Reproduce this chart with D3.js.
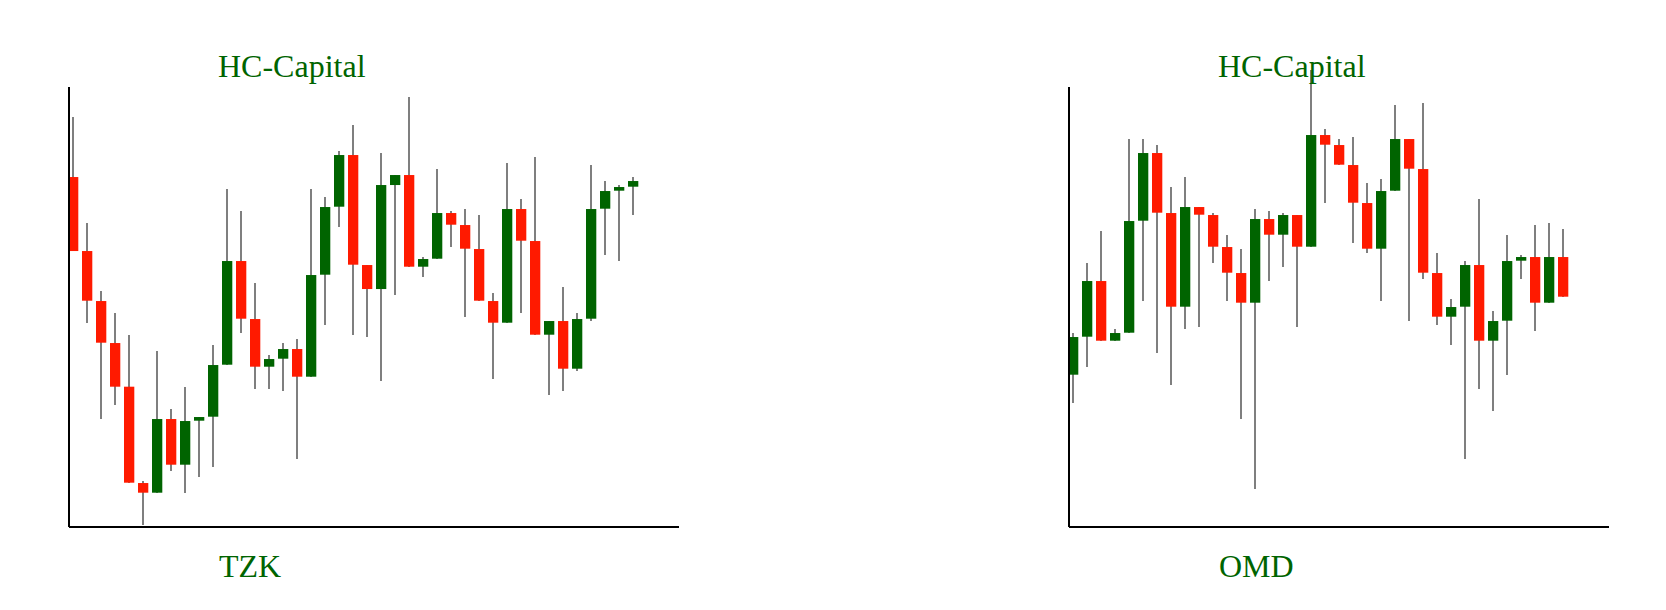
<!DOCTYPE html>
<html>
<head>
<meta charset="utf-8">
<script src="https://cdn.jsdelivr.net/npm/d3@7"></script>
<style>
  body { margin: 0; background: #fff; }
  .label { font-family: "Liberation Serif", "Times New Roman", serif; font-size: 32px; fill: #006400; }
  .axis path { stroke: #000; stroke-width: 2; shape-rendering: crispEdges; }
  .wick { shape-rendering: crispEdges; }
</style>
</head>
<body>
<div id="chart"></div>
<script>
// TZK candles
var tzkOpen  = [104.9, 82.7, 67.7, 55.1, 42.0, 13.1, 10.2, 32.3, 18.6, 31.8, 33.0, 48.6, 79.7, 62.3, 48.0, 50.4, 53.3, 45.0, 75.6, 96.0, 111.5, 78.5, 71.3, 102.5, 105.5, 78.0, 80.4, 94.1, 90.5, 83.3, 67.7, 61.2, 95.3, 85.7, 57.6, 61.7, 47.4, 62.4, 95.4, 100.8, 102.0];
var tzkHigh  = [123.0, 91.1, 70.7, 64.1, 57.5, 13.7, 52.7, 35.3, 42.0, 32.9, 54.5, 101.3, 94.7, 73.1, 51.5, 55.1, 56.3, 101.3, 98.9, 112.7, 120.5, 78.5, 112.1, 105.5, 128.9, 80.9, 107.3, 94.7, 95.3, 93.5, 70.1, 109.1, 98.3, 110.9, 61.7, 71.9, 64.1, 108.5, 103.7, 102.5, 104.9];
var tzkLow   = [82.7, 61.2, 32.4, 36.6, 13.2, 0.6, 10.2, 16.8, 10.2, 15.0, 18.0, 48.6, 58.2, 41.4, 41.4, 40.8, 20.4, 45.0, 60.6, 90.0, 57.6, 57.0, 43.8, 69.6, 78.0, 75.0, 80.4, 84.0, 63.0, 67.8, 44.4, 61.2, 64.2, 57.6, 39.6, 40.8, 46.8, 61.8, 81.6, 79.8, 93.6];
var tzkClose = [82.7, 67.8, 55.2, 42.0, 13.2, 10.2, 32.3, 18.6, 31.7, 32.9, 48.5, 79.7, 62.4, 48.0, 50.3, 53.3, 45.0, 75.5, 95.9, 111.5, 78.6, 71.3, 102.5, 105.5, 78.0, 80.3, 94.1, 90.6, 83.4, 67.8, 61.2, 95.3, 85.8, 57.6, 61.7, 47.4, 62.3, 95.3, 100.7, 101.9, 103.7];

// OMD candles
var omdOpen  = [45.6, 57.0, 73.7, 55.8, 58.2, 91.8, 112.1, 94.1, 66.0, 95.9, 93.5, 83.9, 76.1, 67.2, 92.3, 87.6, 93.5, 84.0, 117.5, 114.5, 108.5, 97.1, 83.4, 100.8, 116.3, 107.3, 76.1, 63.0, 66.0, 78.5, 55.8, 61.8, 79.8, 80.9, 67.2, 80.9];
var omdHigh  = [58.1, 79.1, 88.7, 59.3, 116.3, 116.3, 114.5, 101.9, 104.9, 95.9, 94.1, 87.5, 83.3, 95.3, 94.7, 94.1, 93.5, 137.0, 119.3, 116.3, 116.9, 103.1, 104.3, 126.5, 116.3, 127.1, 82.1, 68.3, 79.7, 98.3, 64.7, 87.5, 81.5, 90.5, 91.1, 89.3];
var omdLow   = [37.2, 48.0, 55.8, 55.8, 58.2, 67.8, 52.2, 42.6, 59.4, 60.0, 79.2, 67.8, 32.4, 11.4, 73.8, 78.0, 60.0, 84.0, 97.2, 108.6, 85.2, 82.2, 67.8, 100.8, 61.8, 74.4, 60.6, 54.6, 20.4, 41.4, 34.8, 45.6, 74.4, 58.8, 67.2, 69.0];
var omdClose = [56.9, 73.7, 55.8, 58.1, 91.7, 112.1, 94.2, 66.0, 95.9, 93.6, 84.0, 76.2, 67.2, 92.3, 87.6, 93.5, 84.0, 117.5, 114.6, 108.6, 97.2, 83.4, 100.7, 116.3, 107.4, 76.2, 63.0, 65.9, 78.5, 55.8, 61.7, 79.7, 80.9, 67.2, 80.9, 69.0];

var titleText = "HC-Capital";
var tickers = ["TZK", "OMD"];
var priceDomain = [0, 132];

var upColor = "#006400", downColor = "#ff1a00", wickColor = "#7f7f7f";

var svg = d3.select("#chart").append("svg")
    .attr("width", 1666)
    .attr("height", 610);

var y = d3.scaleLinear()
    .domain(priceDomain)
    .range([526.7, 86.7]);

function toCandles(o, h, l, c) {
  return o.map(function(d, i) {
    return { i: i, open: o[i], high: h[i], low: l[i], close: c[i] };
  });
}

function drawChart(candles, left, ticker) {
  var step = 14, bodyW = 10.3;
  var x = d3.scaleLinear()
      .domain([0, candles.length])
      .range([left, left + step * candles.length]);
  var xAxisScale = d3.scaleLinear()
      .domain([0, 1])
      .range([left, x(candles.length) + 36]);

  var g = svg.append("g");

  // wicks
  g.selectAll(".wick")
    .data(candles)
    .enter().append("line")
    .attr("class", "wick")
    .attr("x1", function(d) { return Math.round(x(d.i) + bodyW / 2); })
    .attr("x2", function(d) { return Math.round(x(d.i) + bodyW / 2); })
    .attr("y1", function(d) { return y(d.high); })
    .attr("y2", function(d) { return y(d.low); })
    .attr("stroke", wickColor)
    .attr("stroke-width", 1.5);

  // bodies
  g.selectAll(".body")
    .data(candles)
    .enter().append("rect")
    .attr("class", "body")
    .attr("x", function(d) { return x(d.i); })
    .attr("y", function(d) { return y(Math.max(d.open, d.close)); })
    .attr("width", bodyW)
    .attr("height", function(d) { return Math.max(1, Math.abs(y(d.open) - y(d.close))); })
    .attr("fill", function(d) { return d.close >= d.open ? upColor : downColor; });

  g.append("g")
    .attr("class", "axis")
    .attr("transform", "translate(0,526.7)")
    .call(d3.axisBottom(xAxisScale).ticks(0).tickSizeOuter(0));

  g.append("g")
    .attr("class", "axis")
    .attr("transform", "translate(" + left + ",0)")
    .call(d3.axisLeft(y).ticks(0).tickSizeOuter(0));

  g.append("text")
    .attr("class", "label")
    .attr("x", left + 150)
    .attr("y", 76.7)
    .text(titleText);

  g.append("text")
    .attr("class", "label")
    .attr("x", left + 151)
    .attr("y", 576.7)
    .text(ticker);
}

drawChart(toCandles(tzkOpen, tzkHigh, tzkLow, tzkClose), 68, tickers[0]);
drawChart(toCandles(omdOpen, omdHigh, omdLow, omdClose), 1068, tickers[1]);
</script>
</body>
</html>
